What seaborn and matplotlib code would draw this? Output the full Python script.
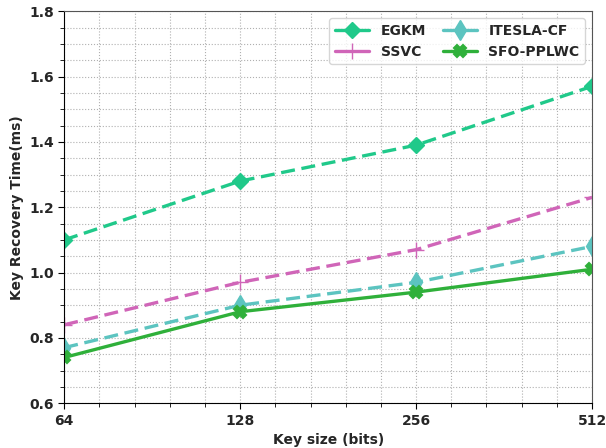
import pandas as pd
import matplotlib
matplotlib.use("Agg")
import matplotlib.pyplot as plt
from matplotlib.ticker import AutoMinorLocator
import seaborn as sns

sns.set_style("ticks")
plt.rcParams['font.family'] = ['DejaVu Sans']
plt.rcParams['font.weight'] = 'bold'

key_sizes = ["64", "128", "256", "512"]
egkm = [1.10, 1.28, 1.39, 1.57]
ssvc = [0.84, 0.97, 1.07, 1.23]
itesla = [0.77, 0.90, 0.97, 1.08]
sfo = [0.74, 0.88, 0.94, 1.01]

series = [
    ("EGKM", egkm, "#20c98a", "--", "D", 8, 1.0),
    ("SSVC", ssvc, "#d065b8", "--", "+", 11, 1.0),
    ("ITESLA-CF", itesla, "#5cc4c0", "--", "d", 10, 1.0),
    ("SFO-PPLWC", sfo, "#2fb03a", "-", "X", 8, 1.5),
]

fig, ax = plt.subplots(figsize=(6.06, 4.48), dpi=100)
pos = list(range(len(key_sizes)))
for name, vals, col, ls, mk, ms, mew in series:
    df = pd.DataFrame({"x": pos, "y": vals})
    sns.lineplot(data=df, x="x", y="y", ax=ax, color=col, linestyle=ls,
                 marker=mk, markersize=ms, linewidth=2.4, label=name,
                 markeredgecolor=col, markeredgewidth=mew)

for line in ax.get_lines():
    if line.get_linestyle() == "--":
        line.set_dashes((4.2, 2.0))

ax.set_xlim(0, 3)
ax.set_ylim(0.6, 1.8)
ax.set_xticks(pos)
ax.set_xticklabels(key_sizes)
ax.xaxis.set_minor_locator(AutoMinorLocator(5))
ax.yaxis.set_minor_locator(AutoMinorLocator(4))
ax.grid(which="both", linestyle=":", color="#b0b0b0", linewidth=0.8)
ax.tick_params(which="both", direction="out", color="black")
ax.tick_params(which="major", length=4)
ax.tick_params(which="minor", length=3)
for lbl in ax.get_xticklabels() + ax.get_yticklabels():
    lbl.set_fontweight("bold")
    lbl.set_fontsize(10)
for s in ["left", "bottom"]:
    ax.spines[s].set_color("black")
for s in ["top", "right"]:
    ax.spines[s].set_color("#555555")

ax.set_xlabel("Key size (bits)", fontsize=10, fontweight="bold")
ax.set_ylabel("Key Recovery Time(ms)", fontsize=10, fontweight="bold")
leg = ax.legend(ncol=2, loc="upper right", prop={"weight": "bold", "size": 10},
                handlelength=2.5, columnspacing=1.2)
for h in leg.legend_handles:
    if h.get_linestyle() == "--":
        h.set_linestyle("-")

plt.subplots_adjust(left=0.106, right=0.977, top=0.975, bottom=0.10)
fig.savefig("out.png", dpi=100)
